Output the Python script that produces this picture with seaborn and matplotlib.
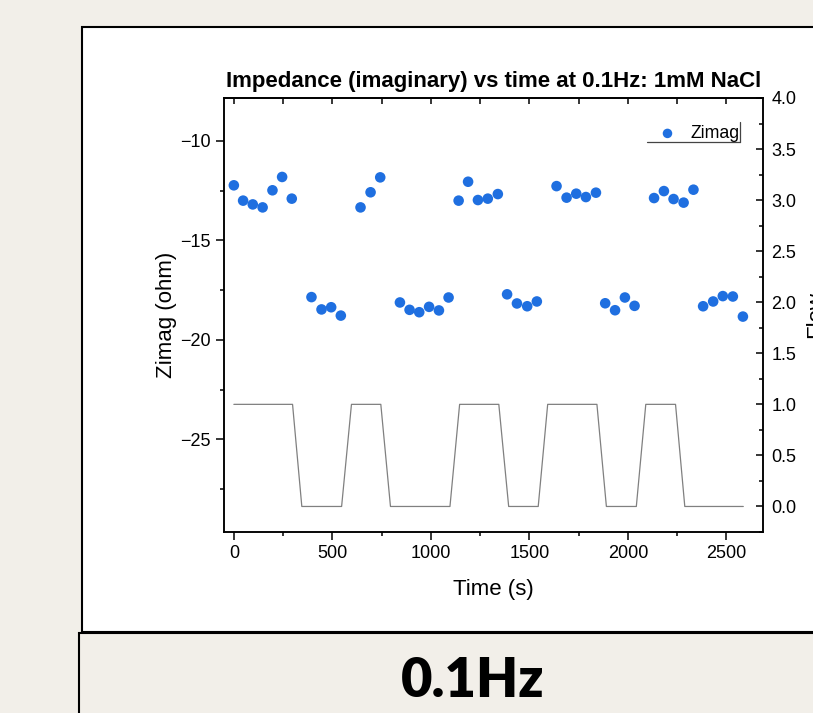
import matplotlib
matplotlib.use('Agg')
import matplotlib.pyplot as plt
import matplotlib.ticker as mticker
from matplotlib.patches import Rectangle
from matplotlib.lines import Line2D
import pandas as pd
import seaborn as sns

# Zimag 측정값 (시간, ohm)
time_s = [0, 47, 96, 146, 196, 245, 294,
          394, 445, 494, 543,
          643, 694, 743,
          843, 892, 941, 991, 1041, 1090,
          1141, 1189, 1239, 1289, 1340,
          1387, 1437, 1489, 1538,
          1638, 1689, 1738, 1787, 1838,
          1885, 1935, 1985, 2034,
          2133, 2183, 2232, 2283, 2333,
          2382, 2433, 2482, 2533, 2584]
zimag = [-12.23, -13.0, -13.19, -13.34, -12.48, -11.81, -12.9,
         -17.85, -18.47, -18.36, -18.78,
         -13.34, -12.58, -11.83,
         -18.12, -18.49, -18.61, -18.34, -18.52, -17.87,
         -13.0, -12.05, -12.97, -12.9, -12.67,
         -17.71, -18.17, -18.31, -18.07,
         -12.27, -12.85, -12.65, -12.82, -12.6,
         -18.16, -18.51, -17.87, -18.29,
         -12.87, -12.52, -12.92, -13.1, -12.45,
         -18.31, -18.07, -17.8, -17.82, -18.83]

# 유량 on/off
flow_time = [0, 298, 345, 547, 597, 746, 795, 1097, 1146, 1345,
             1395, 1545, 1593, 1843, 1891, 2043, 2091, 2242, 2289, 2586]
flow = [1, 1, 0, 0, 1, 1, 0, 0, 1, 1, 0, 0, 1, 1, 0, 0, 1, 1, 0, 0]

df = pd.DataFrame({'Time': time_s, 'Zimag': zimag})
df_flow = pd.DataFrame({'Time': flow_time, 'Flow': flow})

sns.set_style('ticks')
plt.rcParams['font.family'] = ['Liberation Sans', 'DejaVu Sans']
plt.rcParams['axes.linewidth'] = 1.1
plt.rcParams['text.color'] = 'black'
plt.rcParams['axes.labelcolor'] = 'black'
plt.rcParams['xtick.color'] = 'black'
plt.rcParams['ytick.color'] = 'black'

W, H = 813, 713
bg = '#f2efe9'
fig = plt.figure(figsize=(W / 100, H / 100), dpi=100, facecolor=bg)

# 슬라이드 박스
fig.patches.append(Rectangle((82 / W, 1 - 632 / H), 1.0, (632 - 27) / H,
                             transform=fig.transFigure, facecolor='white',
                             edgecolor='black', lw=1.5, zorder=-2))
fig.patches.append(Rectangle((79 / W, -0.1), 1.0, 0.1 + 1 - 633 / H,
                             transform=fig.transFigure, facecolor=bg,
                             edgecolor='black', lw=1.5, zorder=-2))
fig.text(473 / W, 1 - 681 / H, '0.1Hz', family=['Lato', 'DejaVu Sans'],
         fontweight='heavy', fontsize=39, ha='center', va='center', color='black')

ax = fig.add_axes([224 / W, 1 - 532 / H, 539 / W, 434 / H])
sns.scatterplot(data=df, x='Time', y='Zimag', ax=ax, color='#1f6fe0',
                s=58, edgecolor='none', label='Zimag', zorder=3)

ax2 = ax.twinx()
sns.lineplot(data=df_flow, x='Time', y='Flow', ax=ax2, color='#808080',
             lw=0.9, legend=False)

ax.set_xlim(-50, 2686)
ax.set_ylim(-29.66, -7.84)
ax2.set_ylim(-0.25, 4.0)

ax.xaxis.set_major_locator(mticker.MultipleLocator(500))
ax.xaxis.set_minor_locator(mticker.MultipleLocator(250))
ax.yaxis.set_major_locator(mticker.MultipleLocator(5))
ax.yaxis.set_minor_locator(mticker.MultipleLocator(2.5))
ax2.yaxis.set_major_locator(mticker.MultipleLocator(0.5))
ax2.yaxis.set_minor_locator(mticker.MultipleLocator(0.25))
ax2.yaxis.set_major_formatter(mticker.FormatStrFormatter('%.1f'))

ax.tick_params(which='major', direction='out', length=6, width=1.1, labelsize=13)
ax.tick_params(which='minor', direction='out', length=3, width=1.1)
ax.tick_params(axis='y', right=False)
ax2.tick_params(which='major', direction='in', length=5, width=1.1, labelsize=13, pad=6)
ax2.tick_params(which='minor', direction='in', length=3, width=1.1)

top = ax.secondary_xaxis('top')
top.xaxis.set_major_locator(mticker.MultipleLocator(500))
top.xaxis.set_minor_locator(mticker.MultipleLocator(250))
top.tick_params(which='both', direction='in', length=4, width=1.1, labeltop=False)

for a in (ax, ax2):
    for sp in a.spines.values():
        sp.set_visible(True)
        sp.set_color('black')

ax.set_xlabel('Time (s)', fontsize=16, labelpad=12)
ax.set_ylabel('Zimag (ohm)', fontsize=16, labelpad=2)
ax2.set_ylabel('Flow', fontsize=16, labelpad=6)
ax.set_title('Impedance (imaginary) vs time at 0.1Hz: 1mM NaCl',
             fontsize=16, fontweight='bold', pad=8)

leg = ax.legend(loc='upper right', bbox_to_anchor=(0.97, 0.954), frameon=False,
                fontsize=12.8, handletextpad=0.3, borderaxespad=0, markerscale=0.9)

# 범례 테두리 일부 (아래, 오른쪽)
fig.canvas.draw()
bb = leg.get_window_extent().transformed(fig.transFigure.inverted())
x0, x1 = bb.x0 + 4 / W, bb.x1 - 7 / W
y0 = bb.y0 + 7 / H
y1 = y0 + 20 / H
fig.add_artist(Line2D([x0, x1], [y0, y0], transform=fig.transFigure, color='#444444', lw=0.9))
fig.add_artist(Line2D([x1, x1], [y0, y1], transform=fig.transFigure, color='#444444', lw=0.9))

fig.savefig('out.png', dpi=100, facecolor=bg)
